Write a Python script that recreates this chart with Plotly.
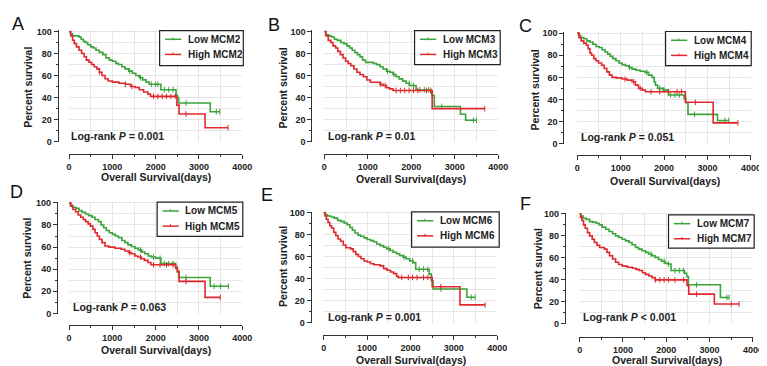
import plotly.graph_objects as go

W, H = 767, 366

# ---------------- data ----------------
panel_letters = ["A", "B", "C", "D", "E", "F"]
genes = ["MCM2", "MCM3", "MCM4", "MCM5", "MCM6", "MCM7"]
p_texts = ["Log-rank <i>P</i> = 0.001", "Log-rank <i>P</i> = 0.01", "Log-rank <i>P</i> = 0.051",
           "Log-rank <i>P</i> = 0.063", "Log-rank <i>P</i> = 0.001", "Log-rank <i>P</i> &lt; 0.001"]
x_ticks = [0, 1000, 2000, 3000, 4000]
y_ticks = [0, 20, 40, 60, 80, 100]

# MCM2
a_low_t = [0, 30, 80, 230, 280, 330, 380, 430, 500, 560, 620, 700, 780, 850, 930, 1000, 1080, 1140, 1220, 1290, 1380, 1460, 1540, 1620, 1700, 1780, 1850, 2120, 2470, 2500, 2530, 3260, 3480]
a_low_s = [100, 98, 96, 95, 93, 91, 90, 88, 86, 85, 83, 81, 79, 76, 74, 73, 71, 70, 68, 66, 64, 62, 60, 58, 56, 54, 52, 47, 42, 40, 35, 27, 27]
a_high_t = [0, 40, 80, 120, 170, 230, 290, 350, 400, 460, 520, 580, 640, 700, 760, 830, 900, 1000, 1150, 1300, 1420, 1520, 1620, 1720, 1820, 1880, 2490, 2540, 3140, 3670]
a_high_s = [100, 96, 92, 89, 86, 83, 80, 77, 74, 72, 70, 68, 66, 63, 60, 57, 55, 54, 53, 52, 50, 49, 47, 45, 43, 41, 33, 25, 12.5, 12.5]
a_low_c = [1400, 1650, 1900, 2000, 2050, 2200, 2300, 2400, 2700, 3400, 3480]
a_high_c = [700, 1300, 1450, 1950, 2050, 2150, 2250, 2350, 2450, 2700, 3670]

# MCM3
b_low_t = [0, 30, 100, 160, 230, 300, 380, 450, 520, 580, 640, 700, 760, 820, 880, 950, 1130, 1200, 1280, 1350, 1430, 1510, 1580, 1650, 1720, 1800, 1880, 1960, 2110, 2450, 2480, 2530, 3130, 3250, 3500]
b_low_s = [100, 97, 96, 95, 93, 92, 90, 89, 87, 85, 83, 81, 79, 77, 74, 72, 71, 70, 68, 66, 64, 63, 61, 59, 57, 55, 53, 51, 47, 44, 42, 32, 25, 19.5, 19.5]
b_high_t = [0, 40, 90, 150, 200, 260, 310, 370, 430, 490, 550, 610, 680, 750, 820, 900, 980, 1060, 1280, 1350, 1430, 1500, 1580, 2480, 3690]
b_high_s = [100, 96, 92, 90, 87, 85, 82, 79, 76, 73, 71, 69, 66, 63, 61, 59, 56, 54, 52, 51, 49, 48, 46.5, 30, 30]
b_low_c = [1450, 1600, 1950, 2050, 2200, 2300, 2400, 2700, 3430, 3500]
b_high_c = [1300, 1400, 1650, 1750, 1850, 1950, 2050, 2150, 2350, 2450, 3690]

# MCM4
c_low_t = [0, 30, 80, 150, 220, 290, 360, 430, 500, 570, 640, 700, 760, 820, 890, 960, 1030, 1110, 1190, 1260, 1350, 1450, 1560, 1640, 1720, 1770, 1800, 1850, 1980, 2100, 2460, 2500, 2550, 3230, 3490]
c_low_s = [100, 98, 96, 95, 93, 92, 90, 88, 87, 85, 83, 81, 79, 77, 75, 73, 71.5, 70.5, 69, 67.5, 66.5, 65.5, 64.5, 62, 60, 56, 53, 50, 48.5, 44, 41, 37, 26.5, 21, 21]
c_high_t = [0, 40, 90, 150, 210, 250, 290, 330, 380, 430, 490, 560, 620, 680, 740, 800, 900, 1030, 1150, 1260, 1340, 1410, 1500, 1570, 2490, 3130, 3700]
c_high_s = [100, 96, 93, 91, 89, 86, 82, 80, 77, 75, 73, 71, 68, 65, 62, 60, 59.5, 58.5, 57.5, 56, 53, 50, 48.5, 47, 37.5, 18.8, 18.8]
c_low_c = [1200, 1600, 1900, 2000, 2150, 2250, 2350, 2700, 3400, 3490]
c_high_c = [1100, 1300, 1450, 1700, 1900, 2100, 2300, 2400, 2720, 3700]

# MCM5
d_low_t = [0, 30, 80, 160, 230, 300, 380, 450, 530, 600, 680, 740, 800, 860, 930, 1000, 1070, 1140, 1220, 1290, 1360, 1440, 1520, 1600, 1680, 1750, 1830, 1900, 2000, 2120, 2460, 2500, 2540, 3260, 3680]
d_low_s = [100, 98, 96, 95, 93, 91.5, 90, 88.5, 87, 85, 83, 80, 77.5, 75, 73, 71.5, 70, 68.5, 66, 64, 62, 60.5, 59, 57.5, 55.5, 54, 52, 51, 50, 45, 42, 37.5, 32.5, 24.5, 24.5]
d_high_t = [0, 40, 90, 150, 210, 270, 330, 380, 440, 490, 550, 600, 650, 700, 760, 830, 920, 1060, 1200, 1290, 1370, 1440, 1520, 1590, 1670, 1740, 1820, 1890, 2460, 2500, 2540, 3140, 3490]
d_high_s = [100, 97, 94, 92, 89, 87, 85, 83, 81, 79, 76, 73, 70, 67, 64, 61, 60, 59, 58, 56.5, 55, 54, 52, 51, 49.5, 48, 46, 44, 41, 38, 29, 14.5, 14.5]
d_low_c = [1650, 1950, 2100, 2200, 2300, 2400, 2700, 3350, 3500, 3680]
d_high_c = [1400, 1650, 1950, 2100, 2250, 2400, 2700, 3490]

# MCM6
e_low_t = [0, 40, 90, 170, 240, 320, 390, 470, 540, 600, 660, 720, 790, 850, 930, 1000, 1080, 1150, 1220, 1300, 1380, 1450, 1530, 1600, 1680, 1750, 1830, 1900, 1980, 2060, 2120, 2430, 2480, 2520, 3300, 3490]
e_low_s = [100, 98, 97, 96, 95, 93, 92, 90.5, 89, 86.5, 84, 81.5, 79.5, 78.5, 77, 75.5, 74.5, 73.5, 71.5, 70, 68.5, 67, 65.5, 64, 62.5, 61, 59.5, 58, 56, 54.5, 48.5, 44, 38, 30.5, 23, 23]
e_high_t = [0, 30, 60, 100, 140, 180, 230, 280, 330, 390, 450, 510, 620, 680, 740, 800, 860, 930, 1000, 1080, 1160, 1300, 1380, 1460, 1540, 1610, 1680, 1720, 2500, 3140, 3720]
e_high_s = [100, 97, 94, 91, 88, 86, 82, 79, 76, 74, 70.5, 68, 67, 64.5, 62, 60, 58, 56, 55, 53.5, 52.5, 51.5, 49, 47.5, 46, 44.5, 42, 41, 32.5, 16, 16]
e_low_c = [1500, 1850, 2050, 2200, 2300, 2400, 2700, 3400, 3490]
e_high_c = [1800, 1950, 2050, 2150, 2300, 2400, 2700, 3720]

# MCM7
f_low_t = [0, 30, 80, 150, 230, 300, 380, 450, 520, 600, 680, 760, 830, 900, 980, 1060, 1140, 1210, 1290, 1360, 1440, 1520, 1590, 1670, 1740, 1820, 1890, 1970, 2050, 2110, 2420, 2470, 2510, 3250, 3450]
f_low_s = [100, 98, 96, 95, 93, 92.5, 91.5, 90, 88, 86, 84, 82, 80, 78.5, 77, 75.5, 74, 72, 69.5, 68, 66.5, 65, 63.5, 62, 60.5, 58.5, 57, 55, 54.5, 48.5, 46, 43, 35.5, 24, 24]
f_high_t = [0, 20, 50, 90, 130, 180, 230, 290, 340, 400, 460, 570, 630, 690, 760, 830, 900, 985, 1100, 1220, 1300, 1370, 1450, 1520, 1600, 1670, 1740, 2480, 2520, 3110, 3680]
f_high_s = [100, 97, 94, 90, 87, 83, 80, 77, 74, 71.5, 69.5, 68, 65, 62, 59, 56, 54, 52.5, 51.5, 50.5, 49.5, 48.5, 46.5, 45, 43.5, 42, 40, 35, 27, 18, 18]
f_low_c = [1650, 1950, 2050, 2200, 2300, 2400, 2700, 3400, 3450]
f_high_c = [1750, 1850, 1950, 2050, 2200, 2400, 2700, 3500, 3680]

curves = [
    (a_low_t, a_low_s, a_low_c, a_high_t, a_high_s, a_high_c),
    (b_low_t, b_low_s, b_low_c, b_high_t, b_high_s, b_high_c),
    (c_low_t, c_low_s, c_low_c, c_high_t, c_high_s, c_high_c),
    (d_low_t, d_low_s, d_low_c, d_high_t, d_high_s, d_high_c),
    (e_low_t, e_low_s, e_low_c, e_high_t, e_high_s, e_high_c),
    (f_low_t, f_low_s, f_low_c, f_high_t, f_high_s, f_high_c),
]

# ---------------- layout geometry (pixels) ----------------
# x pixel of t=0, x pixel of t=4000, y pixel of 100, y pixel of 0, y-axis line x, x-axis line y
geom = [
    (60.0, 236.0, 20.0, 132.7, 48.3, 145.7),
    (319.3, 496.0, 20.0, 133.0, 306.0, 146.0),
    (576.3, 752.7, 21.7, 135.0, 562.0, 146.7),
    (60.0, 236.0, 195.7, 309.0, 47.7, 320.7),
    (318.7, 495.0, 205.7, 318.3, 305.3, 331.3),
    (578.7, 754.7, 207.0, 319.7, 563.7, 333.7),
]
letter_pos = [(8.3, 12.7), (267.7, 13.5), (523.7, 14.0), (7.0, 185.0), (261.0, 187.5), (523.7, 196.5)]
ytitle_pos = [(18.0, 77.0), (277.7, 78.0), (533.7, 80.0), (17.3, 253.0), (276.7, 261.0), (536.0, 263.0)]
xtitle_pos = [(148.0, 169.0), (407.7, 171.7), (665.0, 173.3), (148.3, 346.3), (407.0, 356.3), (667.0, 356.3)]
ptext_pos = [(60.0, 127.0), (321.0, 126.7), (578.0, 128.3), (61.7, 302.3), (321.0, 312.3), (580.3, 313.0)]
legend_box = [(152, 19, 85, 36), (411, 19, 87, 35), (666, 20, 87, 35),
              (149.5, 195, 87, 35), (408, 205, 89, 36), (669, 208, 87, 34)]

GREEN = "#3aa33a"
RED = "#e0282c"
AX = "#333333"
GRID = "#e6e6e6"
FONT = "Liberation Sans"

X_RANGE = (-12, 4000)
Y_RANGE = (-0.4, 101)


def surv_at(t, times, surv):
    val = surv[0]
    for ti, si in zip(times, surv):
        if ti <= t:
            val = si
        else:
            break
    return val


def fx(px):
    return px / W


def fy(py):
    return 1 - py / H


fig = go.Figure()
annotations = []
shapes = []

for i in range(6):
    n = i + 1
    xa = "x" if n == 1 else f"x{n}"
    ya = "y" if n == 1 else f"y{n}"
    lt, ls, lc, ht, hs, hc = curves[i]
    for (tt, ss, cc, col, name) in [(lt, ls, lc, GREEN, "Low " + genes[i]),
                                    (ht, hs, hc, RED, "High " + genes[i])]:
        fig.add_trace(go.Scatter(x=tt, y=ss, mode="lines", line=dict(color=col, width=1.6, shape="hv"),
                                 name=name, xaxis=xa, yaxis=ya, showlegend=False, hoverinfo="skip"))
        fig.add_trace(go.Scatter(x=cc, y=[surv_at(c, tt, ss) for c in cc], mode="markers",
                                 marker=dict(symbol="line-ns", size=4, line=dict(color=col, width=1)),
                                 xaxis=xa, yaxis=ya, showlegend=False, hoverinfo="skip"))

    x0p, x1p, y100p, y0p, ylinex, xliney = geom[i]

    def pxx(v):
        return x0p + v / 4000.0 * (x1p - x0p)

    def pyy(v):
        return y0p + v / 100.0 * (y100p - y0p)

    xdom = [fx(pxx(X_RANGE[0])), fx(pxx(X_RANGE[1]))]
    ydom = [fy(pyy(Y_RANGE[0])), fy(pyy(Y_RANGE[1]))]

    axis_common = dict(showline=True, linecolor=AX, linewidth=1, ticks="outside", ticklen=4,
                       tickcolor=AX, tickwidth=1, showgrid=True, gridcolor=GRID, gridwidth=1,
                       zeroline=False, tickfont=dict(family=FONT, size=9, color="#222222", weight="bold"),
                       anchor="free", fixedrange=True)
    fig.layout[("xaxis" if n == 1 else f"xaxis{n}")] = dict(
        axis_common, domain=xdom, range=list(X_RANGE), tickmode="array", tickvals=x_ticks,
        ticktext=[str(v) for v in x_ticks], position=fy(xliney),
        minor=dict(tickvals=[500, 1500, 2500, 3500], ticklen=2, tickcolor=AX, showgrid=True, gridcolor=GRID))
    fig.layout[("yaxis" if n == 1 else f"yaxis{n}")] = dict(
        axis_common, domain=ydom, range=list(Y_RANGE), tickmode="array", tickvals=y_ticks,
        ticktext=[str(v) for v in y_ticks], position=fx(ylinex),
        minor=dict(tickvals=[10, 30, 50, 70, 90], ticklen=2, tickcolor=AX, showgrid=True, gridcolor=GRID))

    # panel letter
    lx, ly = letter_pos[i]
    annotations.append(dict(text=panel_letters[i], x=fx(lx), y=fy(ly), xref="paper", yref="paper",
                            showarrow=False, xanchor="center", yanchor="middle",
                            font=dict(family=FONT, size=18, color="#111111")))
    # axis titles
    tx, ty = ytitle_pos[i]
    annotations.append(dict(text="Percent survival", x=fx(tx), y=fy(ty), xref="paper", yref="paper",
                            showarrow=False, textangle=-90, xanchor="center", yanchor="middle",
                            font=dict(family=FONT, size=10.5, color="#222222", weight="bold")))
    tx, ty = xtitle_pos[i]
    annotations.append(dict(text="Overall Survival(days)", x=fx(tx), y=fy(ty), xref="paper", yref="paper",
                            showarrow=False, xanchor="center", yanchor="middle",
                            font=dict(family=FONT, size=10.5, color="#222222", weight="bold")))
    tx, ty = ptext_pos[i]
    annotations.append(dict(text=p_texts[i], x=fx(tx), y=fy(ty), xref="paper", yref="paper",
                            showarrow=False, xanchor="left", yanchor="middle",
                            font=dict(family=FONT, size=10.5, color="#222222", weight="bold")))
    # legend box
    bx, by, bw, bh = legend_box[i]
    shapes.append(dict(type="rect", xref="paper", yref="paper", x0=fx(bx), x1=fx(bx + bw),
                       y0=fy(by), y1=fy(by + bh), line=dict(color="#222222", width=1.2),
                       fillcolor="white", layer="above"))
    for row, (col, lab) in enumerate([(GREEN, "Low " + genes[i]), (RED, "High " + genes[i])]):
        ry = by + 9 + row * 15.5
        shapes.append(dict(type="line", xref="paper", yref="paper", x0=fx(bx + 5.5), x1=fx(bx + 22),
                           y0=fy(ry), y1=fy(ry), line=dict(color=col, width=1.5), layer="above"))
        shapes.append(dict(type="line", xref="paper", yref="paper", x0=fx(bx + 13.5), x1=fx(bx + 13.5),
                           y0=fy(ry - 2), y1=fy(ry + 0.5), line=dict(color=col, width=1), layer="above"))
        annotations.append(dict(text=lab, x=fx(bx + 26.5), y=fy(ry), xref="paper", yref="paper",
                                showarrow=False, xanchor="left", yanchor="middle",
                                font=dict(family=FONT, size=10, color="#222222", weight="bold")))

fig.update_layout(width=W, height=H, margin=dict(l=0, r=0, t=0, b=0),
                  paper_bgcolor="white", plot_bgcolor="white", showlegend=False,
                  annotations=annotations, shapes=shapes)

fig.write_html("out.html")
